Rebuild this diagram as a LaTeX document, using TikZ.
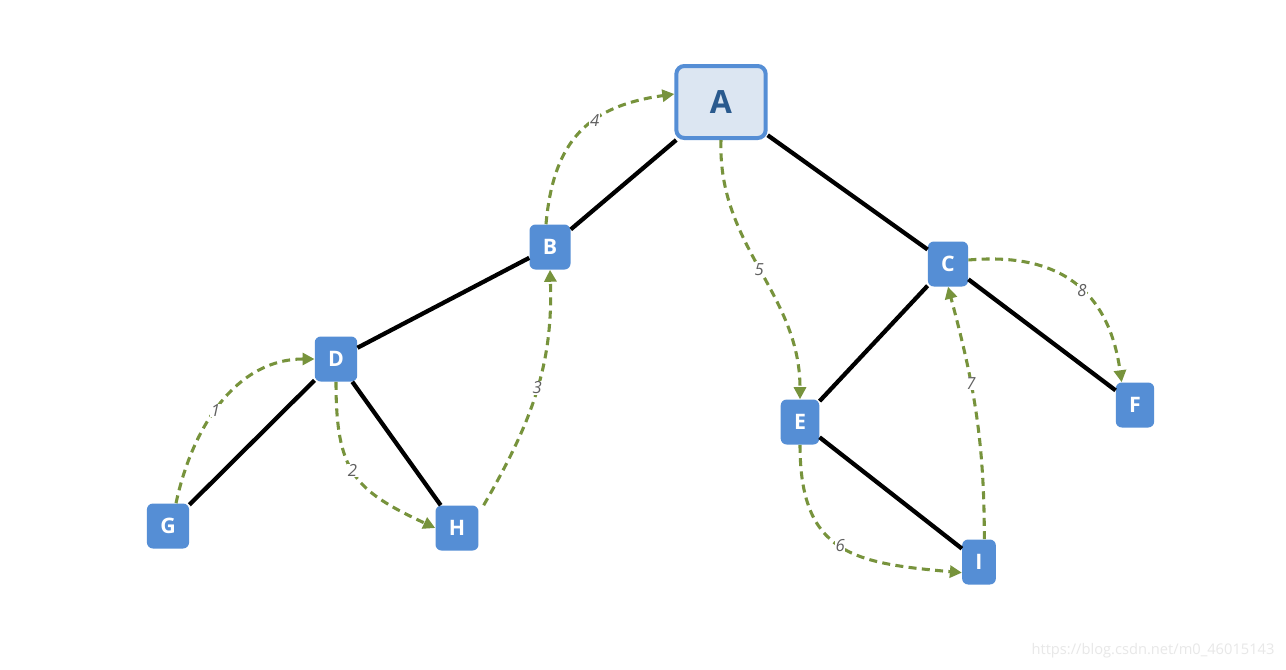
\documentclass[tikz,border=0pt]{standalone}
\usepackage{fontspec}
\setmainfont{Open Sans}
\usetikzlibrary{arrows.meta}
\definecolor{nodeblue}{HTML}{558ED5}
\definecolor{lightblue}{HTML}{DCE6F2}
\definecolor{darkblue}{HTML}{2A5A8E}
\definecolor{dashgreen}{HTML}{77933C}
\definecolor{labelgray}{HTML}{606060}
\definecolor{wmgray}{HTML}{E8E8E8}
\begin{document}
\begin{tikzpicture}[x=0.75pt,y=-0.75pt,
  vnode/.style={fill=nodeblue, draw=none, rounded corners=4.5pt, text=white,
    font=\fontsize{16}{18}\selectfont\bfseries, minimum height=33.75pt, inner xsep=10pt, inner ysep=0pt},
  rootnode/.style={fill=lightblue, draw=nodeblue, line width=3pt, rounded corners=6pt, text=darkblue,
    font=\fontsize{24}{27}\selectfont\bfseries, minimum width=67pt, minimum height=54pt},
  edge/.style={line width=3.2pt, black},
  trav/.style={dashgreen, line width=2.3pt, dash pattern=on 6pt off 4pt,
    -{Triangle[length=9pt,width=9pt]}},
  lab/.style={fill=white, inner sep=0.5pt, text=labelgray, font=\fontsize{12.5}{14}\selectfont\itshape}
]
\useasboundingbox (0,0) rectangle (1286,669);
\fill[white] (0,0) rectangle (1286,669);

\node[rootnode] (A) at (721,102) {A};
\node[vnode] (B) at (550,247) {B};
\node[vnode] (C) at (948,264) {C};
\node[vnode] (D) at (336,359) {D};
\node[vnode] (E) at (800,422) {E};
\node[vnode] (F) at (1135,405) {F};
\node[vnode] (G) at (168,526) {G};
\node[vnode] (H) at (457,528) {H};
\node[vnode] (I) at (979,562) {I};

\draw[edge] (A) -- (B);
\draw[edge] (A) -- (C);
\draw[edge] (B) -- (D);
\draw[edge] (D) -- (G);
\draw[edge] (D) -- (H);
\draw[edge] (C) -- (E);
\draw[edge] (C) -- (F);
\draw[edge] (E) -- (I);

\draw[trav] ([xshift=6]G.north) to[out=78,in=180] node[lab,pos=0.45] {1} (D.west);
\draw[trav] (D.south) to[out=-90,in=155,looseness=1.3] node[lab,pos=0.47] {2} (H.west);
\draw[trav] ([xshift=20]H.north) to[out=60,in=-88] node[lab,pos=0.52] {3} (B.south);
\draw[trav] ([xshift=-3]B.north) to[out=85,in=188,looseness=1.2] node[lab,pos=0.6] {4} ([yshift=6]A.west);
\draw[trav] (A.south) to[out=-92,in=90] node[lab,pos=0.5] {5} (E.north);
\draw[trav] (E.south) to[out=-90,in=175,looseness=1.35] node[lab,pos=0.5] {6} ([yshift=-8]I.west);
\draw[trav] ([xshift=4]I.north) to[out=90,in=-75] node[lab,pos=0.62] {7} (C.south);
\draw[trav] ([yshift=3]C.east) to[out=5,in=98,looseness=1.2] node[lab,pos=0.55] {8} ([xshift=-10]F.north);

\node[text=wmgray, font=\fontsize{11}{13}\selectfont, inner sep=0pt] (wm) at (1153,651) {https://blog.csdn.net/m0\_46015143};
\end{tikzpicture}
\end{document}
